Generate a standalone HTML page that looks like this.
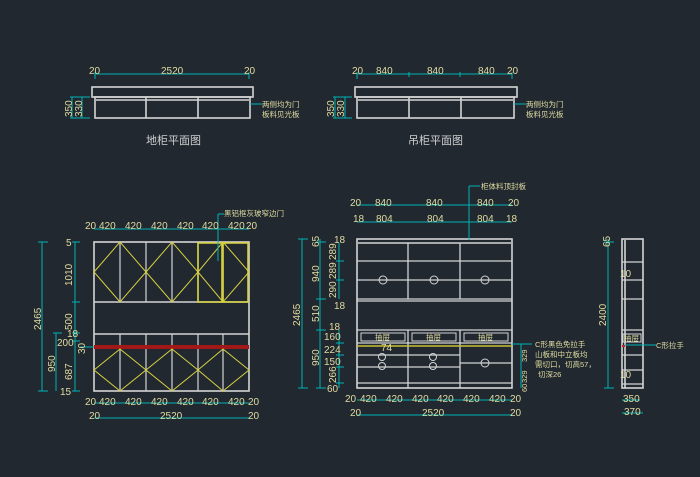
<!DOCTYPE html>
<html><head><meta charset="utf-8"><style>
html,body{margin:0;padding:0;background:#212830;}
svg{display:block}
text{font-family:"Liberation Sans","Noto Sans CJK SC",sans-serif;fill:#e0dca0;font-size:10px}
.c{stroke:#00b4b4;stroke-width:1;fill:none}
.w{stroke:#d4d4d4;stroke-width:1.6;fill:none}
.y{stroke:#d6d040;stroke-width:1;fill:none}
.t{fill:#cfcfcf;font-size:11px}
.s{font-size:7.5px}
</style></head><body>
<svg width="700" height="477" viewBox="0 0 700 477" xmlns="http://www.w3.org/2000/svg">
<rect width="700" height="477" fill="#212830"/>

<!-- TOP LEFT PLAN -->
<line class="c" x1="95" y1="74" x2="249" y2="74"/>
<line class="c" x1="95" y1="72" x2="95" y2="79"/><line class="c" x1="249" y1="72" x2="249" y2="79"/>
<text x="89" y="74">20</text><text x="161" y="74">2520</text><text x="244" y="74">20</text>
<rect class="w" x="92" y="87" width="161" height="10"/>
<rect class="w" x="95" y="97" width="155" height="21"/>
<line class="w" x1="96" y1="100" x2="249" y2="100"/>
<line class="w" x1="146" y1="97" x2="146" y2="118"/><line class="w" x1="198" y1="97" x2="198" y2="118"/>
<line class="c" x1="72" y1="97" x2="72" y2="118"/><line class="c" x1="82" y1="97" x2="82" y2="118"/>
<line class="c" x1="70" y1="97" x2="90" y2="97"/><line class="c" x1="70" y1="118" x2="90" y2="118"/>
<text transform="translate(72,117) rotate(-90)">350</text><text transform="translate(82,117) rotate(-90)">330</text>
<line class="c" x1="250" y1="104" x2="262" y2="104"/>
<text class="s" x="262" y="107">两侧均为门</text><text class="s" x="262" y="117">板料见光板</text>
<text class="t" x="146" y="144">地柜平面图</text>

<!-- TOP RIGHT PLAN -->
<line class="c" x1="357" y1="74" x2="512" y2="74"/>
<line class="c" x1="357" y1="72" x2="357" y2="79"/><line class="c" x1="409" y1="72" x2="409" y2="77"/><line class="c" x1="460" y1="72" x2="460" y2="77"/><line class="c" x1="512" y1="72" x2="512" y2="79"/>
<text x="352" y="74">20</text><text x="376" y="74">840</text><text x="427" y="74">840</text><text x="478" y="74">840</text><text x="507" y="74">20</text>
<rect class="w" x="355" y="87" width="162" height="10"/>
<rect class="w" x="357" y="97" width="157" height="21"/>
<line class="w" x1="358" y1="100" x2="513" y2="100"/>
<line class="w" x1="409" y1="97" x2="409" y2="118"/><line class="w" x1="461" y1="97" x2="461" y2="118"/>
<line class="c" x1="335" y1="97" x2="335" y2="118"/><line class="c" x1="345" y1="97" x2="345" y2="118"/>
<line class="c" x1="333" y1="97" x2="352" y2="97"/><line class="c" x1="333" y1="118" x2="352" y2="118"/>
<text transform="translate(334,117) rotate(-90)">350</text><text transform="translate(344,117) rotate(-90)">330</text>
<line class="c" x1="514" y1="104" x2="526" y2="104"/>
<text class="s" x="526" y="107">两侧均为门</text><text class="s" x="526" y="117">板料见光板</text>
<text class="t" x="408" y="144">吊柜平面图</text>

<!-- LEFT ELEVATION -->
<rect class="w" x="94" y="242" width="155" height="149"/>
<line class="w" x1="94" y1="302" x2="249" y2="302"/>
<line class="w" x1="94" y1="334" x2="249" y2="334"/>
<g class="w" style="stroke-width:1.2">
<line x1="120" y1="242" x2="120" y2="302"/><line x1="146" y1="242" x2="146" y2="302"/><line x1="172" y1="242" x2="172" y2="302"/><line x1="198" y1="242" x2="198" y2="302"/><line x1="223" y1="242" x2="223" y2="302"/>
<line x1="120" y1="334" x2="120" y2="391"/><line x1="146" y1="334" x2="146" y2="391"/><line x1="172" y1="334" x2="172" y2="391"/><line x1="198" y1="334" x2="198" y2="391"/><line x1="223" y1="334" x2="223" y2="391"/>
</g>
<rect x="94" y="345" width="155" height="4" fill="#a01818"/>
<g class="y">
<polygon points="94,272 120,242 146,272 120,302"/>
<polygon points="146,272 172,242 198,272 172,302"/>
<polygon points="198,272 223,242 249,272 223,302"/>
<polygon points="94,370 120,349 146,370 120,391"/>
<polygon points="146,370 172,349 198,370 172,391"/>
<polygon points="198,370 223,349 249,370 223,391"/>
<rect x="198" y="243" width="24" height="59" style="stroke-width:1.6"/><rect x="223" y="243" width="25" height="59" style="stroke-width:1.6"/>
</g>
<line class="c" x1="218" y1="214" x2="218" y2="261"/><line class="c" x1="218" y1="214" x2="224" y2="214"/>
<text class="s" x="224" y="216">黑铝框灰玻窄边门</text>
<!-- left dims -->
<line class="c" x1="42" y1="242" x2="42" y2="391"/><line class="c" x1="38" y1="242" x2="48" y2="242"/><line class="c" x1="38" y1="391" x2="48" y2="391"/>
<text transform="translate(41,330) rotate(-90)">2465</text>
<line class="c" x1="56" y1="333" x2="56" y2="391"/><line class="c" x1="53" y1="333" x2="62" y2="333"/>
<text transform="translate(55,372) rotate(-90)">950</text>
<line class="c" x1="75" y1="242" x2="75" y2="391"/>
<g class="c"><line x1="72" y1="242" x2="80" y2="242"/><line x1="72" y1="302" x2="80" y2="302"/><line x1="72" y1="333" x2="80" y2="333"/><line x1="72" y1="341" x2="80" y2="341"/><line x1="72" y1="391" x2="80" y2="391"/><line x1="80" y1="347" x2="94" y2="347"/></g>
<text x="66" y="246">5</text>
<text transform="translate(72,286) rotate(-90)">1010</text>
<text transform="translate(72,330) rotate(-90)">500</text>
<text x="67" y="337">18</text><text x="57" y="346">200</text>
<text transform="translate(85,354) rotate(-90)">30</text>
<text transform="translate(72,380) rotate(-90)">687</text>
<text x="60" y="395">15</text>
<!-- top dims -->
<line class="c" x1="94" y1="229" x2="249" y2="229"/>
<text x="85" y="229">20</text><text x="99" y="229">420</text><text x="125" y="229">420</text><text x="151" y="229">420</text><text x="177" y="229">420</text><text x="202" y="229">420</text><text x="228" y="229">420</text><text x="246" y="229">20</text>
<!-- bottom dims -->
<line class="c" x1="94" y1="403" x2="249" y2="403"/>
<text x="85" y="405">20</text><text x="99" y="405">420</text><text x="125" y="405">420</text><text x="151" y="405">420</text><text x="177" y="405">420</text><text x="202" y="405">420</text><text x="228" y="405">420</text><text x="248" y="405">20</text>
<line class="c" x1="94" y1="418" x2="249" y2="418"/>
<text x="89" y="419">20</text><text x="160" y="419">2520</text><text x="248" y="419">20</text>

<!-- MIDDLE ELEVATION -->
<rect class="w" x="357" y="239" width="155" height="149"/>
<line class="w" x1="358" y1="243" x2="511" y2="243"/>
<g class="w" style="stroke-width:1.3">
<line x1="408" y1="243" x2="408" y2="299"/><line x1="460" y1="243" x2="460" y2="299"/>
<line x1="357" y1="299" x2="512" y2="299"/><line x1="357" y1="301" x2="512" y2="301"/>
<line x1="357" y1="261" x2="512" y2="261"/><line x1="357" y1="280" x2="512" y2="280"/>
<line x1="357" y1="330" x2="512" y2="330"/>
<line x1="408" y1="330" x2="408" y2="388"/><line x1="460" y1="330" x2="460" y2="388"/>
<line x1="357" y1="343" x2="512" y2="343"/>
<line x1="357" y1="355" x2="460" y2="355"/><line x1="357" y1="367" x2="460" y2="367"/><line x1="357" y1="383" x2="512" y2="383"/>
<line x1="460" y1="363" x2="512" y2="363"/>
</g>
<g class="w" style="stroke-width:1">
<rect x="361" y="333" width="44" height="8"/><rect x="412" y="333" width="44" height="8"/><rect x="464" y="333" width="44" height="8"/>
<circle cx="383" cy="280" r="4"/><circle cx="434" cy="280" r="4"/><circle cx="485" cy="280" r="4"/>
<circle cx="382" cy="357" r="3.5"/><circle cx="382" cy="366" r="3.5"/><circle cx="433" cy="357" r="3.5"/><circle cx="433" cy="366" r="3.5"/>
<circle cx="485" cy="363" r="4"/>
</g>
<text class="s" x="375" y="340">抽屉</text><text class="s" x="426" y="340">抽屉</text><text class="s" x="478" y="340">抽屉</text>
<line x1="357" y1="346" x2="512" y2="346" stroke="#c8c030" stroke-width="1.5"/>
<text x="381" y="351">74</text>
<line class="c" x1="469" y1="186" x2="469" y2="240"/><line class="c" x1="469" y1="186" x2="480" y2="186"/>
<text class="s" x="481" y="189">柜体料顶封板</text>
<line class="c" x1="357" y1="205" x2="512" y2="205"/>
<text x="350" y="206">20</text><text x="375" y="206">840</text><text x="426" y="206">840</text><text x="477" y="206">840</text><text x="508" y="206">20</text>
<line class="c" x1="357" y1="222" x2="512" y2="222"/>
<text x="353" y="222">18</text><text x="376" y="222">804</text><text x="427" y="222">804</text><text x="477" y="222">804</text><text x="506" y="222">18</text>
<line class="c" x1="302" y1="239" x2="302" y2="388"/><line class="c" x1="298" y1="239" x2="308" y2="239"/><line class="c" x1="298" y1="388" x2="308" y2="388"/>
<text transform="translate(300,326) rotate(-90)">2465</text>
<line class="c" x1="320" y1="239" x2="320" y2="388"/>
<g class="c"><line x1="316" y1="242" x2="326" y2="242"/><line x1="316" y1="299" x2="326" y2="299"/><line x1="316" y1="330" x2="326" y2="330"/><line x1="316" y1="388" x2="326" y2="388"/></g>
<text transform="translate(319,247) rotate(-90)">65</text>
<text transform="translate(319,282) rotate(-90)">940</text>
<text transform="translate(319,322) rotate(-90)">510</text>
<text transform="translate(319,366) rotate(-90)">950</text>
<line class="c" x1="339" y1="243" x2="339" y2="299"/><line class="c" x1="339" y1="330" x2="339" y2="388"/>
<g class="c"><line x1="336" y1="261" x2="344" y2="261"/><line x1="336" y1="280" x2="344" y2="280"/><line x1="336" y1="343" x2="344" y2="343"/><line x1="336" y1="355" x2="344" y2="355"/><line x1="336" y1="367" x2="344" y2="367"/><line x1="336" y1="383" x2="344" y2="383"/></g>
<text x="334" y="243">18</text>
<text transform="translate(336,260) rotate(-90)">289</text>
<text transform="translate(336,279) rotate(-90)">289</text>
<text transform="translate(336,298) rotate(-90)">290</text>
<text x="334" y="309">18</text><text x="329" y="330">18</text>
<text x="324" y="340">160</text><text x="324" y="353">224</text><text x="324" y="365">150</text>
<text transform="translate(336,383) rotate(-90)">266</text>
<text x="327" y="392">60</text>
<line class="c" x1="512" y1="344" x2="532" y2="344"/>
<line class="c" x1="521" y1="344" x2="521" y2="388"/>
<text transform="translate(527,362) rotate(-90)" class="s">329</text>
<text transform="translate(527,383) rotate(-90)" class="s">329</text>
<text transform="translate(527,392) rotate(-90)" class="s">60</text>
<text class="s" x="535" y="347">C形黑色免拉手</text>
<text class="s" x="535" y="357">山板和中立板均</text>
<text class="s" x="535" y="367">需切口，切高57，</text>
<text class="s" x="538" y="377">切深26</text>
<line class="c" x1="357" y1="400" x2="512" y2="400"/>
<text x="345" y="402">20</text><text x="360" y="402">420</text><text x="386" y="402">420</text><text x="412" y="402">420</text><text x="437" y="402">420</text><text x="463" y="402">420</text><text x="489" y="402">420</text><text x="510" y="402">20</text>
<line class="c" x1="357" y1="415" x2="512" y2="415"/>
<text x="350" y="416">20</text><text x="422" y="416">2520</text><text x="510" y="416">20</text>

<!-- RIGHT SIDE VIEW -->
<rect class="w" x="622" y="239" width="21" height="149"/>
<line class="w" x1="625" y1="240" x2="625" y2="388"/>
<g class="w" style="stroke-width:1.2">
<line x1="622" y1="262" x2="643" y2="262"/><line x1="622" y1="280" x2="643" y2="280"/><line x1="622" y1="299" x2="643" y2="299"/>
<line x1="622" y1="330" x2="643" y2="330"/><line x1="622" y1="355" x2="643" y2="355"/><line x1="622" y1="370" x2="643" y2="370"/><line x1="622" y1="384" x2="643" y2="384"/>
<rect x="623" y="334" width="18" height="8" style="stroke-width:1"/>
</g>
<text class="s" x="624" y="341">抽屉</text>
<rect x="622" y="345" width="3" height="2" fill="#d02020"/>
<line class="c" x1="625" y1="345" x2="656" y2="345"/>
<text class="s" x="656" y="348">C形拉手</text>
<line class="c" x1="608" y1="239" x2="608" y2="388"/><line class="c" x1="604" y1="242" x2="614" y2="242"/><line class="c" x1="604" y1="388" x2="614" y2="388"/>
<text transform="translate(610,247) rotate(-90)">65</text>
<text transform="translate(606,326) rotate(-90)">2400</text>
<text x="620" y="277">10</text><text x="620" y="378">10</text>
<line class="c" x1="622" y1="400" x2="640" y2="400"/>
<text x="623" y="402">350</text>
<line class="c" x1="622" y1="413" x2="643" y2="413"/>
<text x="624" y="415">370</text>
</svg>
</body></html>
